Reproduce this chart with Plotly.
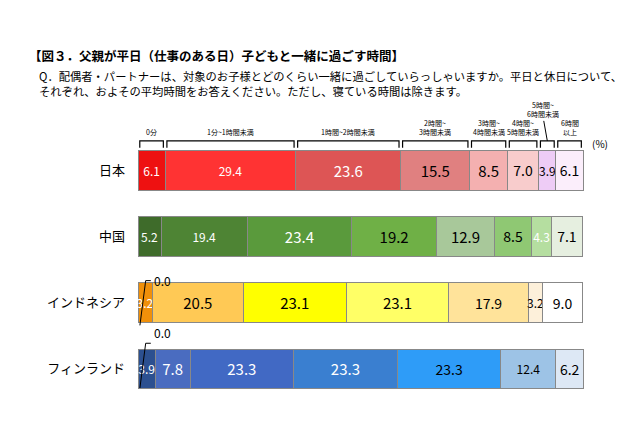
import plotly.graph_objects as go

countries = ["日本", "中国", "インドネシア", "フィンランド"]
categories = ["0分", "1分~1時間未満", "1時間~2時間未満", "2時間~<br>3時間未満",
              "3時間~<br>4時間未満", "4時間~<br>5時間未満", "5時間~<br>6時間未満", "6時間<br>以上"]
values = {
    "日本": [6.1, 29.4, 23.6, 15.5, 8.5, 7.0, 3.9, 6.1],
    "中国": [5.2, 19.4, 23.4, 19.2, 12.9, 8.5, 4.3, 7.1],
    "インドネシア": [0.0, 3.2, 20.5, 23.1, 23.1, 17.9, 3.2, 9.0],
    "フィンランド": [0.0, 3.9, 7.8, 23.3, 23.3, 23.3, 12.4, 6.2],
}
colors = {
    "日本": ["#ee1111", "#ff3333", "#dd5555", "#e08080", "#f4b0b0", "#f8cccc", "#eeccf6", "#fbeefb"],
    "中国": ["#3e6b2a", "#4e8434", "#5a9a3c", "#6fb046", "#a8c89a", "#8fc873", "#b5dea0", "#e6efe0"],
    "インドネシア": ["#f08c00", "#f0900a", "#ffc955", "#ffff00", "#ffff66", "#ffe39a", "#fdf0da", "#ffffff"],
    "フィンランド": ["#2c5090", "#2c5090", "#4a6cc0", "#4169c4", "#3a7fd0", "#2e9cf8", "#9dc3e6", "#dde8f5"],
}
text_colors = {
    "日本": ["white", "white", "white", "black", "black", "black", "black", "black"],
    "中国": ["white", "white", "white", "black", "black", "black", "white", "black"],
    "インドネシア": ["white", "white", "black", "black", "black", "black", "black", "black"],
    "フィンランド": ["white", "white", "white", "white", "white", "black", "black", "black"],
}
font_sizes = [12, 12, 15, 15, 15, 14, 12, 14]

fig = go.Figure()
for i, cat in enumerate(categories):
    vals = [values[c][i] for c in countries]
    fig.add_trace(go.Bar(
        y=countries, x=vals, orientation="h", name=cat,
        marker=dict(color=[colors[c][i] for c in countries], line=dict(color="#888", width=1)),
        text=[f"{v:.1f}" if v > 0 else "" for v in vals],
        textposition="inside", insidetextanchor="middle", textangle=0,
        insidetextfont=dict(color=[text_colors[c][i] for c in countries], size=font_sizes[i]),
        constraintext="none", cliponaxis=False,
    ))

x0, x1 = 130 / 640, 576 / 640
fig.update_layout(
    barmode="stack", width=640, height=426, showlegend=False,
    paper_bgcolor="white", plot_bgcolor="white",
    margin=dict(l=0, r=0, t=0, b=0),
    font=dict(family="Noto Sans CJK JP", color="black"),
    bargap=0.4,
    xaxis=dict(domain=[x0, x1], range=[0, 100.3], visible=False),
    yaxis=dict(domain=[0.075, 0.697], autorange="reversed", showline=False,
               ticks="", tickfont=dict(size=13), ticklabelstandoff=12),
)

# brackets + labels above Japan
jp = values["日本"]
cum = 0
bracket_y, top_y = 0.672, 0.688
for i, (cat, v) in enumerate(zip(categories, jp)):
    a, b = cum + 0.4, cum + v - 0.4
    cum += v
    fig.add_shape(type="path", xref="x", yref="paper",
                  path=f"M {a},{bracket_y} L {a},{top_y} L {b},{top_y} L {b},{bracket_y}",
                  line=dict(color="black", width=1.2))
    mid = (a + b) / 2
    if i == 6:
        fig.add_shape(type="line", xref="x", yref="paper", x0=mid, x1=mid - 0.8,
                      y0=top_y, y1=0.735, line=dict(color="black", width=1))
        fig.add_annotation(x=mid - 1, y=0.735, xref="x", yref="paper", text=cat,
                           showarrow=False, yanchor="bottom", font=dict(size=7))
    else:
        fig.add_annotation(x=mid, y=top_y + 0.005, xref="x", yref="paper", text=cat,
                           showarrow=False, yanchor="bottom", font=dict(size=7))

# 0.0 callouts
for c, yp in [("インドネシア", 0.36), ("フィンランド", 0.213)]:
    fig.add_shape(type="path", xref="paper", yref="paper",
                  path=f"M {x0+0.003},{yp-0.105} L {x0+0.012},{yp} L {x0+0.02},{yp}",
                  line=dict(color="black", width=1))
    fig.add_annotation(x=x0 + 0.022, y=yp, xref="paper", yref="paper", text="0.0",
                       showarrow=False, xanchor="left", font=dict(size=12))

fig.add_annotation(x=0.94, y=0.705, xref="paper", yref="paper", text="(%)",
                   showarrow=False, font=dict(size=10))
fig.add_annotation(x=0.03, y=0.915, xref="paper", yref="paper", xanchor="left",
                   text="<b>【図３．父親が平日（仕事のある日）子どもと一緒に過ごす時間】</b>",
                   showarrow=False, font=dict(size=12.5))
fig.add_annotation(x=0.045, y=0.865, xref="paper", yref="paper", xanchor="left", align="left",
                   text="Q．配偶者・パートナーは、対象のお子様とどのくらい一緒に過ごしていらっしゃいますか。平日と休日について、<br>それぞれ、およその平均時間をお答えください。ただし、寝ている時間は除きます。",
                   showarrow=False, font=dict(size=11.3))

fig.write_html("out.html")
